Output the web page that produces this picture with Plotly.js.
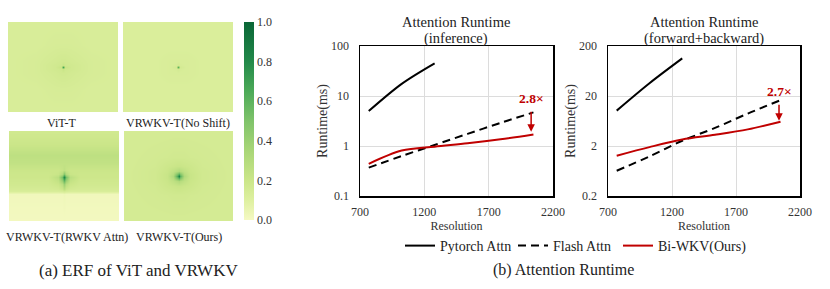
<!DOCTYPE html>
<html>
<head>
<meta charset="utf-8">
<script src="https://cdn.plot.ly/plotly-3.0.1.min.js"></script>
<style>html,body{margin:0;padding:0;background:#fff;}#chart{width:830px;height:289px;}</style>
</head>
<body>
<div id="chart"></div>
<script>
// ---------------- DATA ----------------
// (a) ERF maps: grid coordinates (image units 0..56) and values (0..1)
const vitX = [0, 14, 24, 27, 28, 29, 32, 42, 56];
const vitY = [0, 14, 24, 27, 28, 29, 32, 42, 56];
const vitZ = [
  [0.13,0.13,0.13,0.13,0.13,0.13,0.13,0.13,0.13],
  [0.13,0.13,0.14,0.14,0.14,0.14,0.14,0.13,0.13],
  [0.13,0.14,0.16,0.17,0.17,0.17,0.16,0.14,0.13],
  [0.13,0.14,0.17,0.18,0.21,0.18,0.17,0.14,0.13],
  [0.13,0.14,0.17,0.21,0.68,0.21,0.17,0.14,0.13],
  [0.13,0.14,0.17,0.18,0.21,0.18,0.17,0.14,0.13],
  [0.13,0.14,0.16,0.17,0.17,0.17,0.16,0.14,0.13],
  [0.13,0.13,0.14,0.14,0.14,0.14,0.14,0.13,0.13],
  [0.13,0.13,0.13,0.13,0.13,0.13,0.13,0.13,0.13]
];
const noShiftX = [0, 14, 24, 27, 28, 29, 32, 42, 56];
const noShiftY = [0, 14, 24, 27, 28, 29, 32, 42, 56];
const noShiftZ = [
  [0.12,0.12,0.12,0.12,0.12,0.12,0.12,0.12,0.12],
  [0.12,0.12,0.12,0.12,0.12,0.12,0.12,0.12,0.12],
  [0.12,0.12,0.13,0.13,0.13,0.13,0.13,0.12,0.12],
  [0.12,0.12,0.13,0.14,0.16,0.14,0.13,0.12,0.12],
  [0.12,0.12,0.13,0.16,0.62,0.16,0.13,0.12,0.12],
  [0.12,0.12,0.13,0.14,0.16,0.14,0.13,0.12,0.12],
  [0.12,0.12,0.13,0.13,0.13,0.13,0.13,0.12,0.12],
  [0.12,0.12,0.12,0.12,0.12,0.12,0.12,0.12,0.12],
  [0.12,0.12,0.12,0.12,0.12,0.12,0.12,0.12,0.12]
];
const rwkvX = [0, 20, 25, 27, 28, 29, 31, 36, 56];
const rwkvY = [0, 8, 15, 20, 24, 26.5, 28.5, 30.5, 33, 36, 37.5, 39, 56];
const rwkvZ = [
  [0.17,0.17,0.17,0.17,0.17,0.17,0.17,0.17,0.17],
  [0.20,0.20,0.20,0.20,0.20,0.20,0.20,0.20,0.20],
  [0.26,0.26,0.26,0.26,0.26,0.26,0.26,0.26,0.26],
  [0.24,0.24,0.24,0.24,0.24,0.24,0.24,0.24,0.24],
  [0.20,0.20,0.20,0.22,0.25,0.22,0.20,0.20,0.20],
  [0.19,0.19,0.21,0.30,0.48,0.30,0.21,0.19,0.19],
  [0.19,0.19,0.27,0.52,0.82,0.52,0.27,0.19,0.19],
  [0.18,0.18,0.24,0.42,0.62,0.42,0.24,0.18,0.18],
  [0.17,0.17,0.20,0.27,0.40,0.27,0.20,0.17,0.17],
  [0.15,0.15,0.16,0.19,0.26,0.19,0.16,0.15,0.15],
  [0.13,0.13,0.13,0.14,0.16,0.14,0.13,0.13,0.13],
  [0.02,0.02,0.02,0.02,0.03,0.02,0.02,0.02,0.02],
  [0.01,0.01,0.01,0.01,0.01,0.01,0.01,0.01,0.01]
];
const oursX = [0, 16, 22, 25, 27, 28, 29, 31, 34, 40, 56];
const oursY = [0, 16, 22, 25, 27, 28, 29, 31, 34, 40, 56];
const oursZ = [
  [0.15,0.15,0.15,0.15,0.15,0.15,0.15,0.15,0.15,0.15,0.15],
  [0.15,0.16,0.165,0.17,0.17,0.17,0.17,0.17,0.165,0.16,0.15],
  [0.15,0.165,0.19,0.20,0.21,0.21,0.21,0.20,0.19,0.165,0.15],
  [0.15,0.17,0.20,0.25,0.29,0.32,0.29,0.25,0.20,0.17,0.15],
  [0.15,0.17,0.21,0.29,0.50,0.62,0.50,0.29,0.21,0.17,0.15],
  [0.15,0.17,0.21,0.32,0.62,0.85,0.62,0.32,0.21,0.17,0.15],
  [0.15,0.17,0.21,0.29,0.50,0.62,0.50,0.29,0.21,0.17,0.15],
  [0.15,0.17,0.20,0.25,0.29,0.32,0.29,0.25,0.20,0.17,0.15],
  [0.15,0.165,0.19,0.20,0.21,0.21,0.21,0.20,0.19,0.165,0.15],
  [0.15,0.16,0.165,0.17,0.17,0.17,0.17,0.17,0.165,0.16,0.15],
  [0.15,0.15,0.15,0.15,0.15,0.15,0.15,0.15,0.15,0.15,0.15]
];
const erfLabels = ["ViT-T", "VRWKV-T(No Shift)", "VRWKV-T(RWKV Attn)", "VRWKV-T(Ours)"];
const colorbarTicks = [0.0, 0.2, 0.4, 0.6, 0.8, 1.0];

// (b) Attention runtime (ms)
const resolution = [768, 1024, 1280, 1536, 1792, 2048];
const pytorchRes = [768, 1024, 1280];
const infPytorch = [5.0, 17.5, 45];
const infFlash   = [0.37, 0.63, 1.05, 1.75, 2.9, 4.7];
const infBiWKV   = [0.44, 0.81, 0.97, 1.13, 1.36, 1.7];
const fbPytorch  = [10.2, 36, 113];
const fbFlash    = [0.64, 1.24, 2.55, 4.6, 8.9, 16.5];
const fbBiWKV    = [1.28, 1.9, 2.7, 3.35, 4.3, 6.1];
const seriesNames = ["Pytorch Attn", "Flash Attn", "Bi-WKV(Ours)"];
const speedupLabels = ["2.8×", "2.7×"];
const infTicks = [0.1, 1, 10, 100];
const fbTicks = [0.2, 2, 20, 200];
const resTicks = [700, 1200, 1700, 2200];

// ---------------- STYLE / LAYOUT ----------------
const W = 830, H = 289;
const px = v => v / W;
const py = v => 1 - v / H;
const FONT = "Liberation Serif";
const RED = "#c00000";
const cscale = [
  [0.0, "#f5f9c3"], [0.1, "#def0a0"], [0.2, "#cbe689"], [0.35, "#a9d677"],
  [0.5, "#7fc36a"], [0.65, "#4caa58"], [0.8, "#23894a"], [1.0, "#0a6636"]
];

function hm(x, y, z, axn, showscale) {
  const t = {
    type: "heatmap", x: x, y: y, z: z, zmin: 0, zmax: 1, zsmooth: "best",
    colorscale: cscale, showscale: !!showscale, hoverinfo: "skip",
    xaxis: "x" + (axn === 1 ? "" : axn), yaxis: "y" + (axn === 1 ? "" : axn)
  };
  if (showscale) {
    t.colorbar = {
      x: px(244), xanchor: "left", y: py(121), yanchor: "middle",
      thickness: 10, len: 198, lenmode: "pixels", xpad: 0, ypad: 0,
      outlinewidth: 0, ticks: "", tickvals: colorbarTicks,
      ticktext: colorbarTicks.map(v => v.toFixed(1)),
      ticklabelstandoff: 2,
      tickfont: {family: FONT, size: 12, color: "#333"}
    };
  }
  return t;
}

const traces = [
  hm(vitX, vitY, vitZ, 1, true),
  hm(noShiftX, noShiftY, noShiftZ, 2, false),
  hm(rwkvX, rwkvY, rwkvZ, 3, false),
  hm(oursX, oursY, oursZ, 4, false),
];

function line(x, y, ax, name, color, dash, legend, show) {
  return {
    type: "scatter", mode: "lines", x: x, y: y, name: name,
    line: {color: color, width: 2, dash: dash, shape: "spline", smoothing: 0.9},
    xaxis: "x" + ax, yaxis: "y" + ax, legend: legend, showlegend: show, hoverinfo: "skip"
  };
}
traces.push(line(pytorchRes, infPytorch, 5, seriesNames[0], "#000", "solid", "legend", true));
traces.push(line(resolution, infFlash, 5, seriesNames[1], "#000", "8px,5px", "legend2", true));
traces.push(line(resolution, infBiWKV, 5, seriesNames[2], RED, "solid", "legend3", true));
traces.push(line(pytorchRes, fbPytorch, 6, seriesNames[0], "#000", "solid", "legend", false));
traces.push(line(resolution, fbFlash, 6, seriesNames[1], "#000", "8px,5px", "legend2", false));
traces.push(line(resolution, fbBiWKV, 6, seriesNames[2], RED, "solid", "legend3", false));

function imgAxes(x0, x1, y0, y1) {
  return [
    {domain: [px(x0), px(x1)], range: [0, 56], visible: false, fixedrange: true},
    {domain: [py(y1), py(y0)], range: [56, 0], visible: false, fixedrange: true}
  ];
}
const a1 = imgAxes(8, 118, 22, 112);
const a2 = imgAxes(123, 233, 22, 112);
const a3 = imgAxes(9, 119, 131, 221);
const a4 = imgAxes(124, 233, 131, 221);

function xRes(x0, x1, anchor) {
  return {
    domain: [px(x0), px(x1)], anchor: anchor, range: [700, 2200], tickvals: resTicks,
    showline: true, mirror: true, linecolor: "#000", linewidth: 1.5,
    showgrid: true, gridcolor: "#dcdcdc", gridwidth: 1, zeroline: false, ticks: "",
    ticklabelstandoff: 4,
    tickfont: {family: FONT, size: 12, color: "#333"},
    title: {text: "Resolution", font: {family: FONT, size: 12, color: "#333"}, standoff: 3}
  };
}
function yLog(lo, hi, ticks, anchor) {
  return {
    domain: [py(196), py(46)], anchor: anchor, type: "log",
    range: [Math.log10(lo), Math.log10(hi)], tickvals: ticks, ticktext: ticks.map(String),
    showline: true, mirror: true, linecolor: "#000", linewidth: 1.5,
    showgrid: true, gridcolor: "#dcdcdc", gridwidth: 1, zeroline: false, ticks: "",
    ticklabelstandoff: 7,
    tickfont: {family: FONT, size: 12, color: "#333"},
    title: {text: "Runtime(ms)", font: {family: FONT, size: 14, color: "#333"}, standoff: 0}
  };
}

const ann = [];
function txt(x, y, text, size, opts) {
  ann.push(Object.assign({
    xref: "paper", yref: "paper", x: px(x), y: py(y), text: text, showarrow: false,
    xanchor: "center", yanchor: "middle",
    font: {family: FONT, size: size, color: "#222"}
  }, opts || {}));
}
txt(62, 123, erfLabels[0], 12);
txt(178, 123, erfLabels[1], 12);
txt(67, 237, erfLabels[2], 12);
txt(179, 237, erfLabels[3], 12);
txt(138, 270, "(a) ERF of ViT and VRWKV", 17);
txt(563, 270, "(b) Attention Runtime", 16);
txt(456, 22, "Attention Runtime", 14.5);
txt(456, 38, "(inference)", 14.5);
txt(704, 22, "Attention Runtime", 14.5);
txt(704, 38, "(forward+backward)", 14.5);

// speed-up arrows pointing at Bi-WKV end values
ann.push({
  xref: "x5", yref: "y5", x: 2030, y: Math.log10(infBiWKV[5] * 1.13),
  text: "<b>" + speedupLabels[0] + "</b>", showarrow: true, axref: "pixel", ayref: "pixel",
  ax: 0, ay: -33, arrowhead: 2, arrowsize: 1, arrowwidth: 1.5, arrowcolor: RED,
  startstandoff: 4, font: {family: FONT, size: 13.5, color: RED}
});
ann.push({
  xref: "x6", yref: "y6", x: 2036, y: Math.log10(fbBiWKV[5] * 1.05),
  text: "<b>" + speedupLabels[1] + "</b>", showarrow: true, axref: "pixel", ayref: "pixel",
  ax: 0, ay: -29, arrowhead: 2, arrowsize: 1, arrowwidth: 1.5, arrowcolor: RED,
  startstandoff: 4, font: {family: FONT, size: 13.5, color: RED}
});

function leg(x) {
  return {
    orientation: "h", x: px(x), xanchor: "left", y: py(246), yanchor: "middle",
    font: {family: FONT, size: 14, color: "#222"}, bgcolor: "rgba(0,0,0,0)",
    borderwidth: 0, itemwidth: 30
  };
}

const layout = {
  width: W, height: H, margin: {l: 0, r: 0, t: 0, b: 0},
  paper_bgcolor: "#fff", plot_bgcolor: "#fff",
  font: {family: FONT, color: "#222"},
  xaxis: a1[0], yaxis: a1[1],
  xaxis2: Object.assign(a2[0], {anchor: "y2"}), yaxis2: Object.assign(a2[1], {anchor: "x2"}),
  xaxis3: Object.assign(a3[0], {anchor: "y3"}), yaxis3: Object.assign(a3[1], {anchor: "x3"}),
  xaxis4: Object.assign(a4[0], {anchor: "y4"}), yaxis4: Object.assign(a4[1], {anchor: "x4"}),
  xaxis5: xRes(360, 553, "y5"), yaxis5: yLog(0.1, 100, infTicks, "x5"),
  xaxis6: xRes(608, 800, "y6"), yaxis6: yLog(0.2, 200, fbTicks, "x6"),
  legend: leg(400), legend2: leg(513), legend3: leg(618),
  annotations: ann, showlegend: true
};

Plotly.newPlot("chart", traces, layout, {staticPlot: true, displayModeBar: false});
</script>
</body>
</html>
